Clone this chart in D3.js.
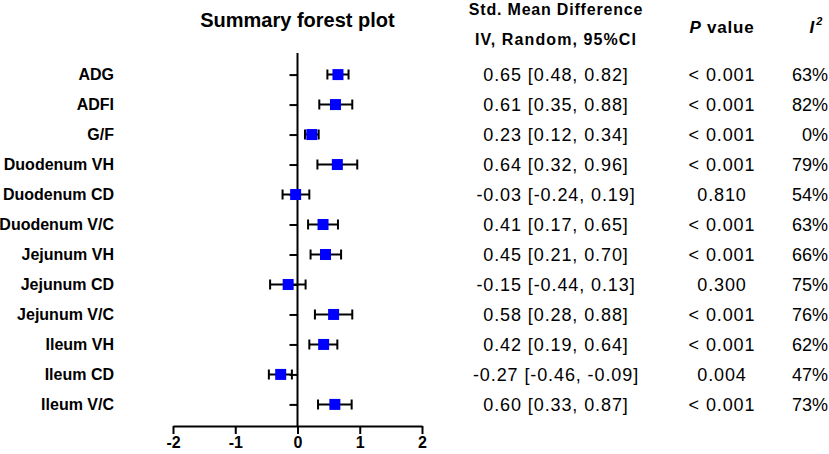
<!DOCTYPE html>
<html>
<head>
<meta charset="utf-8">
<script src="https://cdn.jsdelivr.net/npm/d3@7"></script>
<style>
  body { margin: 0; background: #fff; }
  svg text { font-family: "Liberation Sans", Arial, Helvetica, sans-serif; fill: #000; }
</style>
</head>
<body>
<div id="forest"></div>
<script>
const outcomes = ["ADG", "ADFI", "G/F", "Duodenum VH", "Duodenum CD", "Duodenum V/C",
  "Jejunum VH", "Jejunum CD", "Jejunum V/C", "Ileum VH", "Ileum CD", "Ileum V/C"];
const smd = [0.65, 0.61, 0.23, 0.64, -0.03, 0.41, 0.45, -0.15, 0.58, 0.42, -0.27, 0.60];
const ciLow = [0.48, 0.35, 0.12, 0.32, -0.24, 0.17, 0.21, -0.44, 0.28, 0.19, -0.46, 0.33];
const ciHigh = [0.82, 0.88, 0.34, 0.96, 0.19, 0.65, 0.70, 0.13, 0.88, 0.64, -0.09, 0.87];
const pValues = ["< 0.001", "< 0.001", "< 0.001", "< 0.001", "0.810", "< 0.001",
  "< 0.001", "0.300", "< 0.001", "< 0.001", "0.004", "< 0.001"];
const iSquared = [63, 82, 0, 79, 54, 63, 66, 75, 76, 62, 47, 73];
const xTicks = [-2, -1, 0, 1, 2];

const rows = outcomes.map((name, i) => ({
  name,
  smd: smd[i],
  lo: ciLow[i],
  hi: ciHigh[i],
  p: pValues[i],
  i2: iSquared[i],
}));

const size = { width: 829, height: 454 };
const plot = { left: 173, right: 422, top: 53, bottom: 426 };

const svg = d3
  .select("#forest")
  .append("svg")
  .attr("width", size.width)
  .attr("height", size.height);

const x = d3.scaleLinear().domain([-2, 2]).range([plot.left, plot.right]);

const y = d3
  .scalePoint()
  .domain(outcomes)
  .range([plot.top, plot.bottom])
  .padding(0.72);

// plain hyphen for negatives, like the original table
const f = (v) => v.toFixed(2);

// title
svg
  .append("text")
  .attr("x", x(0))
  .attr("y", 27)
  .attr("text-anchor", "middle")
  .style("font-size", "20px")
  .style("font-weight", "bold")
  .text("Summary forest plot");

// vertical axis at zero, ticks only
const yAxis = svg
  .append("g")
  .attr("transform", `translate(${x(0)},0)`)
  .call(d3.axisLeft(y).tickSize(8).tickSizeOuter(0).tickFormat(""));
yAxis.select(".domain").attr("d", `M0,${plot.top}V${plot.bottom}`);

const xAxis = svg
  .append("g")
  .attr("transform", `translate(0,${plot.bottom})`)
  .call(d3.axisBottom(x).tickValues(xTicks).tickSize(8).tickSizeOuter(0).tickPadding(3)
    .tickFormat((d) => String(d)));
xAxis
  .selectAll("text")
  .style("font-size", "16px")
  .style("font-weight", "bold")
  .style("font-family", '"Liberation Sans", Arial, sans-serif');

svg.selectAll(".domain, .tick line").attr("stroke", "#000").attr("stroke-width", 2);

// row labels
svg
  .selectAll(".rowLabel")
  .data(rows)
  .join("text")
  .attr("class", "rowLabel")
  .attr("x", 114)
  .attr("y", (d) => y(d.name))
  .attr("dy", "0.35em")
  .attr("text-anchor", "end")
  .style("font-size", "16px")
  .style("font-weight", "bold")
  .text((d) => d.name);

// error bars + caps
const capH = 5;
const bars = svg.selectAll(".ci").data(rows).join("g").attr("class", "ci");
bars
  .append("path")
  .attr("fill", "none")
  .attr("stroke", "#000")
  .attr("stroke-width", 2)
  .attr("d", (d) => {
    const yy = y(d.name);
    return `M${x(d.lo)},${yy - capH}V${yy + capH}` +
      `M${x(d.lo)},${yy}H${x(d.hi)}` +
      `M${x(d.hi)},${yy - capH}V${yy + capH}`;
  });

const sq = 11;
svg
  .selectAll(".point")
  .data(rows)
  .join("rect")
  .attr("class", "point")
  .attr("x", (d) => x(d.smd) - sq / 2)
  .attr("y", (d) => y(d.name) - sq / 2)
  .attr("width", sq)
  .attr("height", sq)
  .attr("fill", "#0000ff");

// table headers
const colSmd = 556, colP = 722, colI2 = 828;
svg.append("text")
  .attr("x", colSmd).attr("y", 15)
  .attr("text-anchor", "middle")
  .style("font-size", "16px").style("font-weight", "bold").style("letter-spacing", "0.8px")
  .text("Std. Mean Difference");
svg.append("text")
  .attr("x", colSmd).attr("y", 45)
  .attr("text-anchor", "middle")
  .style("font-size", "16px").style("font-weight", "bold").style("letter-spacing", "1.1px")
  .text("IV, Random, 95%CI");

const pHead = svg.append("text")
  .attr("x", colP).attr("y", 33)
  .attr("text-anchor", "middle")
  .style("font-size", "17px").style("font-weight", "bold").style("letter-spacing", "0.8px");
pHead.append("tspan").style("font-style", "italic").text("P");
pHead.append("tspan").text(" value");

const iHead = svg.append("text")
  .attr("x", 816).attr("y", 33)
  .attr("text-anchor", "middle")
  .style("font-size", "17px").style("font-weight", "bold").style("font-style", "italic");
iHead.append("tspan").text("I");
iHead.append("tspan").attr("dx", 2).attr("dy", -8).style("font-size", "11px").text("2");

// table body
svg.selectAll(".smdText")
  .data(rows)
  .join("text")
  .attr("class", "smdText")
  .attr("x", colSmd)
  .attr("y", (d) => y(d.name))
  .attr("dy", "0.36em")
  .attr("text-anchor", "middle")
  .style("font-size", "18px")
  .style("letter-spacing", "0.9px")
  .text((d) => `${f(d.smd)} [${f(d.lo)}, ${f(d.hi)}]`);

svg.selectAll(".pText")
  .data(rows)
  .join("text")
  .attr("class", "pText")
  .attr("x", colP)
  .attr("y", (d) => y(d.name))
  .attr("dy", "0.36em")
  .attr("text-anchor", "middle")
  .style("font-size", "18px")
  .style("letter-spacing", "0.9px")
  .text((d) => d.p);

svg.selectAll(".i2Text")
  .data(rows)
  .join("text")
  .attr("class", "i2Text")
  .attr("x", colI2)
  .attr("y", (d) => y(d.name))
  .attr("dy", "0.36em")
  .attr("text-anchor", "end")
  .style("font-size", "18px")
  .text((d) => `${d.i2}%`);
</script>
</body>
</html>
